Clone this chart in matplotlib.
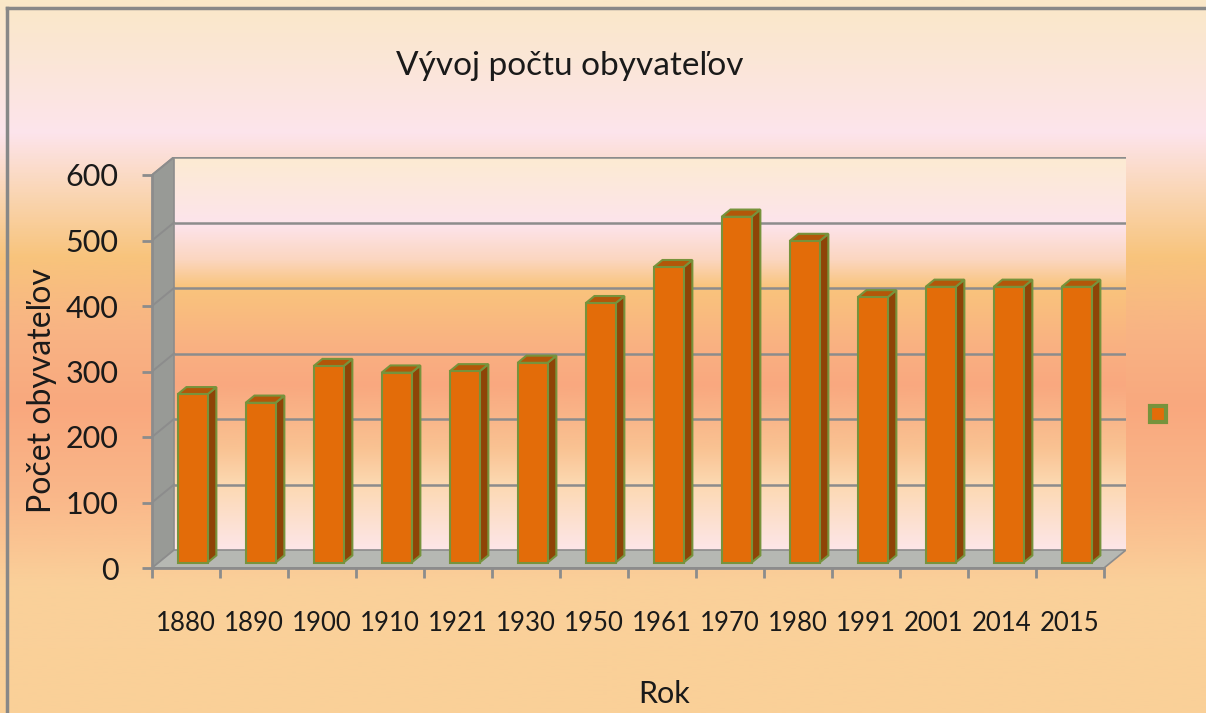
import numpy as np
import matplotlib
matplotlib.use("Agg")
import matplotlib.pyplot as plt
from matplotlib.colors import LinearSegmentedColormap
from matplotlib.patches import Polygon, Patch
from matplotlib.lines import Line2D

# ---------------- data ----------------
years = ["1880", "1890", "1900", "1910", "1921", "1930", "1950",
         "1961", "1970", "1980", "1991", "2001", "2014", "2015"]
population = [257, 244, 300, 290, 292, 305, 396, 451, 528, 491, 405, 421, 421, 421]
y_ticks = [0, 100, 200, 300, 400, 500, 600]

title = "Vývoj počtu obyvateľov"
y_label = "Počet obyvateľov"
x_label = "Rok"

# ---------------- style ----------------
FONT = ["Lato", "DejaVu Sans"]
plt.rcParams["font.family"] = FONT
W, H, DPI = 1206, 713, 100

bar_front = "#E36C09"
bar_side = "#8E4407"
bar_top = "#B35709"
bar_edge = "#77933C"
grid_col = "#8C8C8C"
wall_col = "#989A96"
floor_col = "#B6B8B3"
text_col = "#1a1a1a"

fig = plt.figure(figsize=(W / DPI, H / DPI), dpi=DPI)

# figure background gradient
bg_stops = [(0.0, "#FAE8C8"), (0.09, "#FBE6D8"), (0.185, "#FDE4EC"),
            (0.27, "#FAD6B4"), (0.36, "#F8C47C"), (0.46, "#F8B484"),
            (0.57, "#F9A87E"), (0.70, "#FAB88A"), (0.82, "#FAD09A"),
            (1.0, "#FAD098")]
bg_cmap = LinearSegmentedColormap.from_list("bg", bg_stops)
bgax = fig.add_axes([0, 0, 1, 1], zorder=-10)
bgax.imshow(np.linspace(0, 1, 512).reshape(-1, 1), cmap=bg_cmap,
            aspect="auto", extent=(0, 1, 0, 1), origin="upper")
bgax.set_axis_off()

# geometry of the pseudo-3D box (depth expressed in data units)
n = len(years)
ymax = y_ticks[-1]
ddx = 22 / 68.0          # depth in category units
ddy = 18 / 0.655         # depth in value units
x_px_per_cat = 68.0
y_px_per_val = 0.655
left_px, bottom_px = 152, 713 - 568
ax = fig.add_axes([left_px / W, bottom_px / H,
                   (n + ddx) * x_px_per_cat / W,
                   (ymax + ddy) * y_px_per_val / H])
ax.set_xlim(0, n + ddx)
ax.set_ylim(0, ymax + ddy)
ax.patch.set_alpha(0)

# back wall gradient
wall_stops = [(0.0, "#FCEBD2"), (0.17, "#FDE4EC"), (0.26, "#FBD6C0"),
              (0.33, "#F9C47C"), (0.48, "#FAB182"), (0.58, "#F9A87F"),
              (0.74, "#F9C292"), (0.83, "#FCD8B0"), (1.0, "#FDE6E8")]
wall_cmap = LinearSegmentedColormap.from_list("wall", wall_stops)
ax.imshow(np.linspace(0, 1, 512).reshape(-1, 1), cmap=wall_cmap, aspect="auto",
          extent=(ddx, n + ddx, ddy, ymax + ddy), origin="upper", zorder=0)

# left wall and floor
ax.add_patch(Polygon([(0, 0), (0, ymax), (ddx, ymax + ddy), (ddx, ddy)],
                     closed=True, facecolor=wall_col, edgecolor=grid_col,
                     lw=1.2, zorder=1))
ax.add_patch(Polygon([(0, 0), (n, 0), (n + ddx, ddy), (ddx, ddy)],
                     closed=True, facecolor=floor_col, edgecolor=grid_col,
                     lw=1.2, zorder=1))

# gridlines on back wall + diagonals on left wall
for v in y_ticks[1:]:
    ax.plot([ddx, n + ddx], [v + ddy, v + ddy], color=grid_col, lw=1.8,
            zorder=2, solid_capstyle="butt")
    ax.plot([0, ddx], [v, v + ddy], color=grid_col, lw=1.4, zorder=2)

# bars (front face + side + top)
bw = 0.44
f0, s = 0.3, 0.4
centers = np.arange(n) + 0.5
ax.bar(centers + f0 * ddx, population, width=bw, bottom=f0 * ddy,
       color=bar_front, edgecolor=bar_edge, linewidth=1.5, zorder=4)
for c, v in zip(centers, population):
    xl = c + f0 * ddx - bw / 2
    xr = c + f0 * ddx + bw / 2
    b = f0 * ddy
    sx, sy = s * ddx, s * ddy
    ax.add_patch(Polygon([(xr, b), (xr + sx, b + sy), (xr + sx, b + sy + v),
                          (xr, b + v)], closed=True, facecolor=bar_side,
                         edgecolor=bar_edge, lw=1.5, zorder=3.9))
    ax.add_patch(Polygon([(xl, b + v), (xr, b + v), (xr + sx, b + v + sy),
                          (xl + sx, b + v + sy)], closed=True,
                         facecolor=bar_top, edgecolor=bar_edge, lw=1.5,
                         zorder=3.9))

# axes / ticks
for side in ("top", "right"):
    ax.spines[side].set_visible(False)
for side in ("left", "bottom"):
    ax.spines[side].set_color(grid_col)
    ax.spines[side].set_linewidth(2)
    ax.spines[side].set_zorder(5)
ax.spines["left"].set_bounds(0, ymax)
ax.spines["bottom"].set_bounds(0, n)
ax.set_yticks(y_ticks)
ax.set_yticklabels([str(t) for t in y_ticks], fontsize=22, color=text_col)
ax.set_xticks(np.arange(n + 1))
ax.set_xticklabels([""] * (n + 1))
ax.set_xticks(centers, minor=True)
ax.set_xticklabels(years, minor=True, fontsize=18.5, color=text_col)
ax.tick_params(axis="x", which="major", length=7, width=2, color=grid_col)
ax.tick_params(axis="x", which="minor", length=0, pad=31)
ax.tick_params(axis="y", length=7, width=2, color=grid_col, pad=17)

fig.text(42 / W, 1 - 391 / H, y_label, fontsize=23, rotation=90,
         ha="center", va="center", color=text_col)
fig.text(570 / W, 1 - 66 / H, title, fontsize=24, ha="center", va="center",
         color=text_col)
fig.text(664 / W, 1 - 694 / H, x_label, fontsize=22, ha="center",
         va="center", color=text_col)

# legend (marker only)
leg = fig.legend(handles=[Patch(facecolor=bar_front, edgecolor=bar_edge, lw=3)],
                 labels=[""], loc="center",
                 bbox_to_anchor=(1158 / W, 1 - 415 / H), frameon=False,
                 handlelength=0.85, handleheight=0.85, handletextpad=0,
                 borderpad=0, borderaxespad=0, fontsize=14)

# outer frame (top and left edges)
fig.add_artist(Line2D([7 / W, 1], [1 - 8 / H, 1 - 8 / H], color="#888888",
                      lw=2.5, transform=fig.transFigure))
fig.add_artist(Line2D([7 / W, 7 / W], [0, 1 - 8 / H], color="#888888",
                      lw=2.5, transform=fig.transFigure))

fig.savefig("out.png", dpi=DPI)
